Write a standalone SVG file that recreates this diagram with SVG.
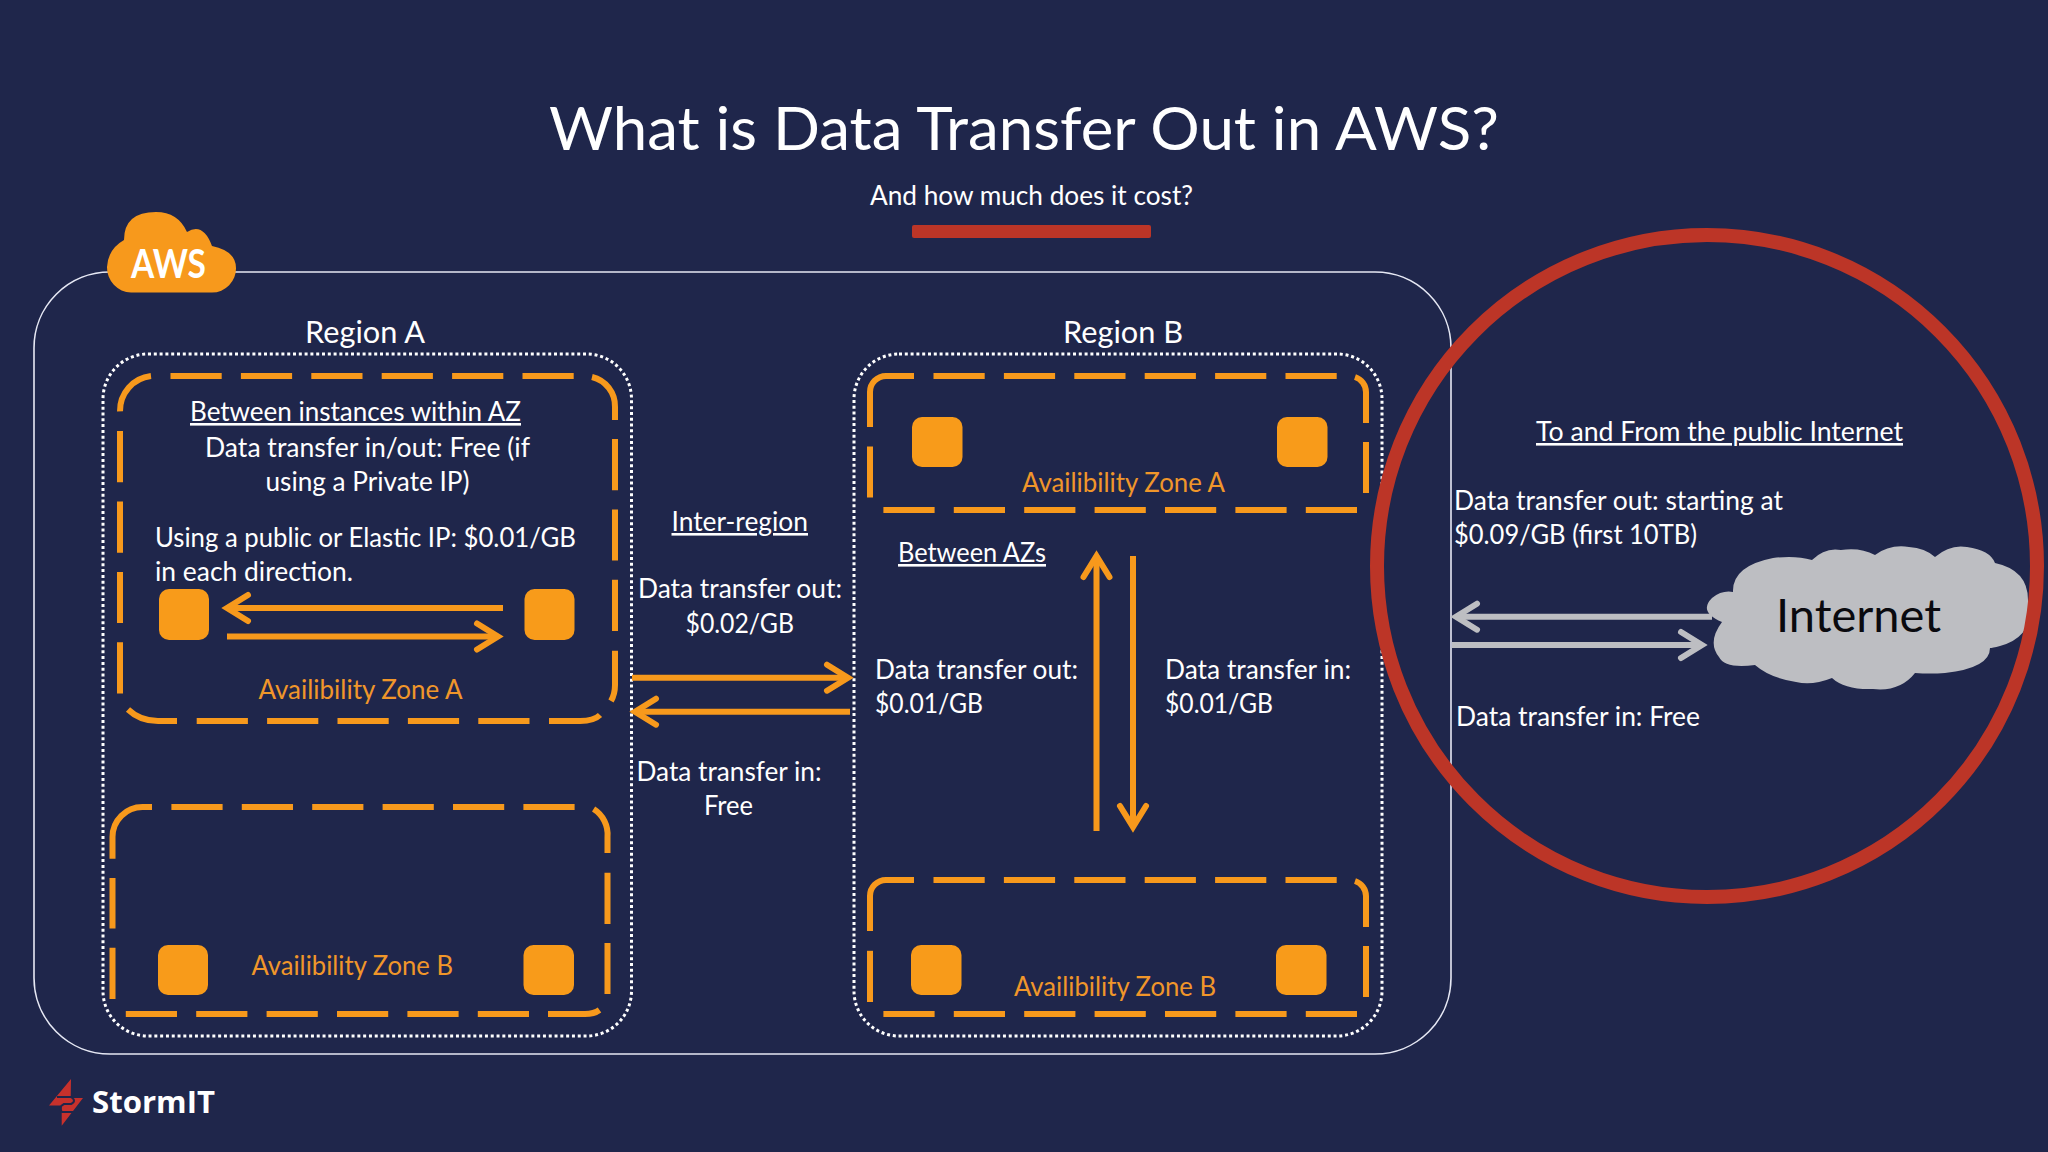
<svg xmlns="http://www.w3.org/2000/svg" width="2048" height="1152" viewBox="0 0 2048 1152">
<style>
text{font-family:"Lato","Liberation Sans",sans-serif;fill:#fff;font-size:26px}
.o{fill:#F0962A}
.u{text-decoration:underline}
.dash{fill:none;stroke:#F7991C;stroke-width:6;stroke-dasharray:51.2 19.2}
.solid{fill:none;stroke:#F7991C;stroke-width:6}
.dot{fill:none;stroke:#fff;stroke-width:3;stroke-dasharray:3 2.8}
.sq{fill:#F89B1A}
.oa{fill:none;stroke:#F7991C;stroke-width:6;marker-end:url(#ho)}
.ga{fill:none;stroke:#BDBEC2;stroke-width:6;marker-end:url(#hg)}
</style>
<defs>
<marker id="ho" markerUnits="userSpaceOnUse" viewBox="-30 -20 40 40" markerWidth="40" markerHeight="40" refX="0" refY="0" orient="auto"><path d="M-21 -13L0 0L-21 13" fill="none" stroke="#F7991C" stroke-width="6" stroke-linecap="round"/></marker>
<marker id="hg" markerUnits="userSpaceOnUse" viewBox="-30 -20 40 40" markerWidth="40" markerHeight="40" refX="0" refY="0" orient="auto"><path d="M-21 -13L0 0L-21 13" fill="none" stroke="#BDBEC2" stroke-width="6" stroke-linecap="round"/></marker>
</defs>
<rect width="2048" height="1152" fill="#1F264B"/>
<g id="title">
<text x="549" y="150" style="font-size:60px" textLength="950" lengthAdjust="spacingAndGlyphs">What is Data Transfer Out in AWS?</text>
<text x="870" y="205" textLength="323" lengthAdjust="spacingAndGlyphs">And how much does it cost?</text>
<rect x="912" y="225" width="239" height="13" rx="2" fill="#BC3527"/>
</g>
<g id="aws-boundary"><rect x="34" y="272" width="1417" height="782" rx="76" fill="none" stroke="#E6E8F4" stroke-width="1.6"/></g>
<g id="aws-cloud">
<path d="M131 292.500A24.500 25 0 0 1 107 267Q108 249 124 240Q124 212 156 212Q178 212 187 232Q203 222 212 246Q236 251 236 268A24 24 0 0 1 212 292.500Z" fill="#F7991C"/>
<text x="131" y="278" style="font-size:41px;font-weight:700" textLength="75" lengthAdjust="spacingAndGlyphs">AWS</text>
</g>
<g id="region-a">
<text x="305" y="343" style="font-size:30px" textLength="120" lengthAdjust="spacingAndGlyphs">Region A</text>
<rect class="dot" x="103" y="354" width="528.500" height="682" rx="45"/>
</g>
<g id="az-a-region-a">
<path class="dash" d="M170.500 376H574"/>
<path class="solid" d="M592 377A30 30 0 0 1 615 407V420"/>
<path class="dash" d="M615 439V632"/>
<path class="solid" d="M615 650.700V685Q615 694 611 701"/>
<path class="solid" d="M600 715Q594 721 580 721H549"/>
<path class="dash" d="M529.500 721H196.400"/>
<path class="solid" d="M177 721H158Q140 721 128 709.500"/>
<path class="dash" d="M120 693.500V431"/>
<path class="solid" d="M120 411.400A35 35 0 0 1 151 376"/>
<rect class="sq" x="159" y="589" width="50" height="51" rx="10"/>
<rect class="sq" x="524.500" y="589" width="50" height="51" rx="10"/>
<text class="u" x="190" y="421" textLength="331" lengthAdjust="spacingAndGlyphs">Between instances within AZ</text>
<text x="205" y="457" textLength="325" lengthAdjust="spacingAndGlyphs">Data transfer in/out: Free (if</text>
<text x="265.500" y="491" textLength="204" lengthAdjust="spacingAndGlyphs">using a Private IP)</text>
<text x="155" y="547" textLength="421" lengthAdjust="spacingAndGlyphs">Using a public or Elastic IP: $0.01/GB</text>
<text x="155" y="581" textLength="198" lengthAdjust="spacingAndGlyphs">in each direction.</text>
<text class="o" x="258.500" y="699" textLength="204" lengthAdjust="spacingAndGlyphs">Availibility Zone A</text>
</g>
<g id="az-b-region-a">
<path class="dash" d="M171.400 807H575"/>
<path class="solid" d="M593.600 809A30 30 0 0 1 607.500 837V853"/>
<path class="dash" d="M607.500 872.700V994"/>
<path class="solid" d="M599.500 1010Q594 1014 585 1014H548"/>
<path class="dash" d="M529 1014H125.700"/>
<path class="dash" d="M112.500 999V878"/>
<path class="solid" d="M112.500 858.700V837A30 30 0 0 1 142.500 807H152"/>
<rect class="sq" x="158" y="945" width="50" height="50" rx="10"/>
<rect class="sq" x="523.500" y="945" width="50.500" height="50" rx="10"/>
<text class="o" x="251.500" y="975" textLength="201.500" lengthAdjust="spacingAndGlyphs">Availibility Zone B</text>
</g>
<g id="region-b">
<text x="1063" y="343" style="font-size:30px" textLength="120" lengthAdjust="spacingAndGlyphs">Region B</text>
<rect class="dot" x="854" y="354" width="528" height="682" rx="45"/>
</g>
<g id="az-a-region-b">
<path class="dash" d="M933.500 376H1337"/>
<path class="solid" d="M1355 377A16 16 0 0 1 1366 392V423"/>
<path class="dash" d="M1366 442V493"/>
<path class="dash" d="M1357 510H883"/>
<path class="dash" d="M870 497.500V446.500"/>
<path class="solid" d="M870 427V392A16 16 0 0 1 886 376H914"/>
<rect class="sq" x="912" y="417" width="50.500" height="50" rx="10"/>
<rect class="sq" x="1277" y="417" width="50.500" height="50" rx="10"/>
<text class="o" x="1022" y="491.500" textLength="203" lengthAdjust="spacingAndGlyphs">Availibility Zone A</text>
</g>
<g id="az-b-region-b">
<path class="dash" d="M933.500 880H1337"/>
<path class="solid" d="M1355 881A16 16 0 0 1 1366 896V927"/>
<path class="dash" d="M1366 946V997"/>
<path class="dash" d="M1357 1014H883"/>
<path class="dash" d="M870 1002V950.600"/>
<path class="solid" d="M870 931V896A16 16 0 0 1 886 880H914"/>
<rect class="sq" x="911" y="945" width="50.500" height="50" rx="10"/>
<rect class="sq" x="1276" y="945" width="50.500" height="50" rx="10"/>
<text class="o" x="1014" y="996" textLength="202" lengthAdjust="spacingAndGlyphs">Availibility Zone B</text>
</g>
<g id="connectors">
<path class="oa" d="M503 608H227"/>
<path class="oa" d="M227 636.500H498"/>
<path class="oa" d="M632 677.700H848"/>
<path class="oa" d="M850 711.700H635"/>
<path class="oa" d="M1096.500 831V556"/>
<path class="oa" d="M1133 556V827"/>
<path class="ga" d="M1712 616.700H1456"/>
<path class="ga" d="M1452 645H1702"/>
</g>
<g id="labels">
<text class="u" x="671.500" y="531" textLength="136.500" lengthAdjust="spacingAndGlyphs">Inter-region</text>
<text x="638" y="598" textLength="204" lengthAdjust="spacingAndGlyphs">Data transfer out:</text>
<text x="685.500" y="633" textLength="108.500" lengthAdjust="spacingAndGlyphs">$0.02/GB</text>
<text x="636.500" y="781" textLength="185" lengthAdjust="spacingAndGlyphs">Data transfer in:</text>
<text x="704" y="815" textLength="49" lengthAdjust="spacingAndGlyphs">Free</text>
<text class="u" x="898" y="562" textLength="148" lengthAdjust="spacingAndGlyphs">Between AZs</text>
<text x="875" y="679" textLength="203" lengthAdjust="spacingAndGlyphs">Data transfer out:</text>
<text x="875" y="713" textLength="108" lengthAdjust="spacingAndGlyphs">$0.01/GB</text>
<text x="1165" y="679" textLength="186" lengthAdjust="spacingAndGlyphs">Data transfer in:</text>
<text x="1165" y="713" textLength="108" lengthAdjust="spacingAndGlyphs">$0.01/GB</text>
<text class="u" x="1536" y="441" textLength="367" lengthAdjust="spacingAndGlyphs">To and From the public Internet</text>
<text x="1454" y="510" textLength="329" lengthAdjust="spacingAndGlyphs">Data transfer out: starting at</text>
<text x="1454" y="544" textLength="243" lengthAdjust="spacingAndGlyphs">$0.09/GB (first 10TB)</text>
<text x="1456" y="726" textLength="244" lengthAdjust="spacingAndGlyphs">Data transfer in: Free</text>
</g>
<g id="internet">
<path d="M1722 622Q1698 612 1712 598Q1722 590 1733 592Q1732 566 1773 558Q1795 555 1812 560Q1825 547 1841 550Q1860 547 1875 555Q1890 544 1909 547Q1925 548 1935 557Q1950 544 1967 547Q1990 550 1995 563Q2028 570 2028 600Q2036 636 2000 646Q1992 648 1990 648Q1990 668 1945 673Q1930 674 1915 673Q1900 692 1873 689Q1845 690 1832 678Q1812 686 1796 682Q1770 678 1755 665Q1725 669 1719 657Q1707 642 1722 622Z" fill="#BDBEC2"/>
<text x="1776" y="632" style="font-size:46px;fill:#0A0A0F" textLength="165" lengthAdjust="spacingAndGlyphs">Internet</text>
</g>
<g id="highlight"><ellipse cx="1707" cy="566" rx="330" ry="331" fill="none" stroke="#BC3527" stroke-width="14"/></g>
<g id="logo">
<path d="M71 1079L49 1105.500H61.700V1125.700L83 1098H70.700Z" fill="#C7312C"/>
<path d="M57 1097H71Q77 1101 71 1104H64Q58 1107 62 1112H73" fill="none" stroke="#1F264B" stroke-width="2"/>
<text x="92" y="1113" style="font-size:31px;font-weight:700;font-family:'Open Sans',sans-serif" textLength="123" lengthAdjust="spacingAndGlyphs">StormIT</text>
</g>
</svg>
